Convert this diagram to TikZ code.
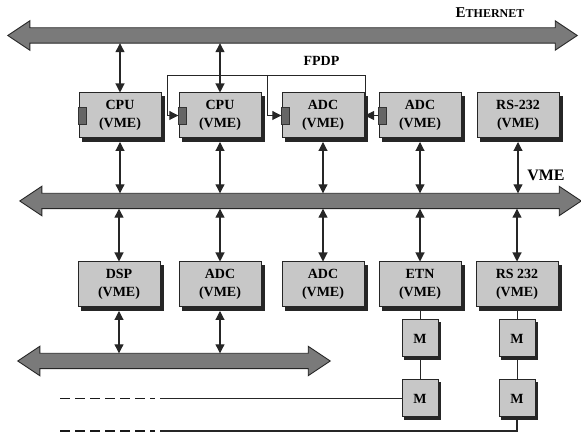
\documentclass[tikz,border=0pt]{standalone}
\usepackage{fontspec}
\setmainfont{Liberation Serif}
\usetikzlibrary{arrows.meta}

% outline of a thick double-headed bus, drawn round a bus node
\newcommand\drawbus[1]{%
  \filldraw[fill=black!52, draw=black!85, line width=0.9pt]
    (#1.north west) -- (#1.north east) -- ++(0,7) -- ([xshift=22pt]#1.east)
    -- ([yshift=-7pt]#1.south east) -- (#1.south east) -- (#1.south west)
    -- ++(0,-7) -- ([xshift=-22pt]#1.west) -- ([yshift=7pt]#1.north west) -- cycle;}
% dark edge on the right and below a card
\newcommand\cardshadow[2]{%
  \fill[black!85] ([yshift=-#2]#1.north east) rectangle ([shift={(#2,-#2)}]#1.south east);
  \fill[black!85] ([xshift=#2]#1.south west) rectangle ([shift={(#2,-#2)}]#1.south east);}

\begin{document}
\begin{tikzpicture}[x=1pt,y=1pt,
	>={Triangle[length=9pt,width=9pt]},
	card/.style={draw=black!85, line width=1pt, fill=black!22, minimum width=82pt, minimum height=45pt,
		inner sep=0pt, align=center, font=\bfseries\fontsize{14}{18}\selectfont},
	mbox/.style={card, minimum width=36pt, minimum height=37pt},
	port/.style={draw=black!80, fill=black!60, minimum width=8pt, minimum height=17pt, inner sep=0pt},
	bus/.style={minimum height=15pt, inner sep=0pt},
	link/.style={<->, line width=1.1pt, black!85},
	wire/.style={line width=0.9pt, black!85},
	dashline/.style={line width=1.7pt, black!90, dash pattern=on 10pt off 5pt}]
	\useasboundingbox (0,0) rectangle (581,435);

	% buses
	\node[bus, minimum width=525pt] (eth) at (292.5,399.5) {};
	\node[bus, minimum width=517pt] (vme) at (300.5,234) {};
	\node[bus, minimum width=268pt] (lbus) at (174,74) {};
	\drawbus{eth}
	\drawbus{vme}
	\drawbus{lbus}
	\node[font=\bfseries\fontsize{15}{18}\selectfont] (ethlabel) at (490,422) {E{\fontsize{12}{14}\selectfont THERNET}};
	\node[font=\bfseries\fontsize{16}{19}\selectfont] (vmelabel) at (546,260) {VME};
	\node[font=\bfseries\fontsize{14}{17}\selectfont] (fpdplabel) at (321.5,374) {FPDP};

	% VME cards
	\foreach \n/\x/\t in {1/120/CPU,2/220/CPU,3/323/ADC,4/420/ADC,5/518/RS-232}{
		\node[card] (t\n) at (\x,319.5) {\t\\(VME)};
		\cardshadow{t\n}{3.5pt}
	}
	\foreach \n/\x/\t in {1/119/DSP,2/220/ADC,3/323/ADC,4/420/ETN,5/517/RS 232}{
		\node[card] (b\n) at (\x,150.5) {\t\\(VME)};
		\cardshadow{b\n}{3.5pt}
	}
	\foreach \n in {1,...,4}
	\node[port] (p\n) at ([xshift=4pt]t\n.west) {};

	\node[mbox] (m1) at (420,96.5) {M};
	\node[mbox] (m2) at (420,36.5) {M};
	\node[mbox] (m3) at (517,96.5) {M};
	\node[mbox] (m4) at (517,36.5) {M};
	\foreach \n in {1,...,4}{
		\cardshadow{m\n}{2.5pt}
	}

	% links to the buses
	\foreach \n in {1,2}
	\draw[link] (t\n.north) -- (t\n.north |- eth.south);
	\foreach \n in {1,...,5}{
		\draw[link] ([yshift=-3.5pt]t\n.south) -- (t\n.south |- vme.north);
		\draw[link] (b\n.north) -- (b\n.north |- vme.south);
	}
	\foreach \n in {1,2}
	\draw[link] ([yshift=-3.5pt]b\n.south) -- (b\n.south |- lbus.north);

	% FPDP
	\coordinate (fL) at (167,360);
	\coordinate (fM) at (267,360);
	\coordinate (fR) at (365,360);
	\draw[wire] (fL) -- (fR) -- (fR |- p4.west);
	\draw[wire,->] (fL) |- (p2.west);
	\draw[wire,->] (fM) |- (p3.west);
	\draw[wire,->] (p4.west) -- (p4.west -| fR);

	% serial lines
	\draw[wire] ([yshift=-3.5pt]b4.south) -- (m1) -- (m2);
	\draw[wire] ([yshift=-3.5pt]b5.south) -- (m3) -- (m4);
	\coordinate (sA) at (160,36.5);
	\coordinate (sB) at (160,4);
	\coordinate (dA) at (60,36.5);
	\coordinate (dB) at (60,4);
	\draw[wire, line width=1.3pt] (m2.west) -- (sA);
	\draw[wire, line width=1.3pt] ([yshift=-2.5pt]m4.south) |- (sB);
	\draw[dashline] (dA) -- ([xshift=-5pt]sA);
	\draw[dashline] (dB) -- ([xshift=-5pt]sB);
\end{tikzpicture}
\end{document}
